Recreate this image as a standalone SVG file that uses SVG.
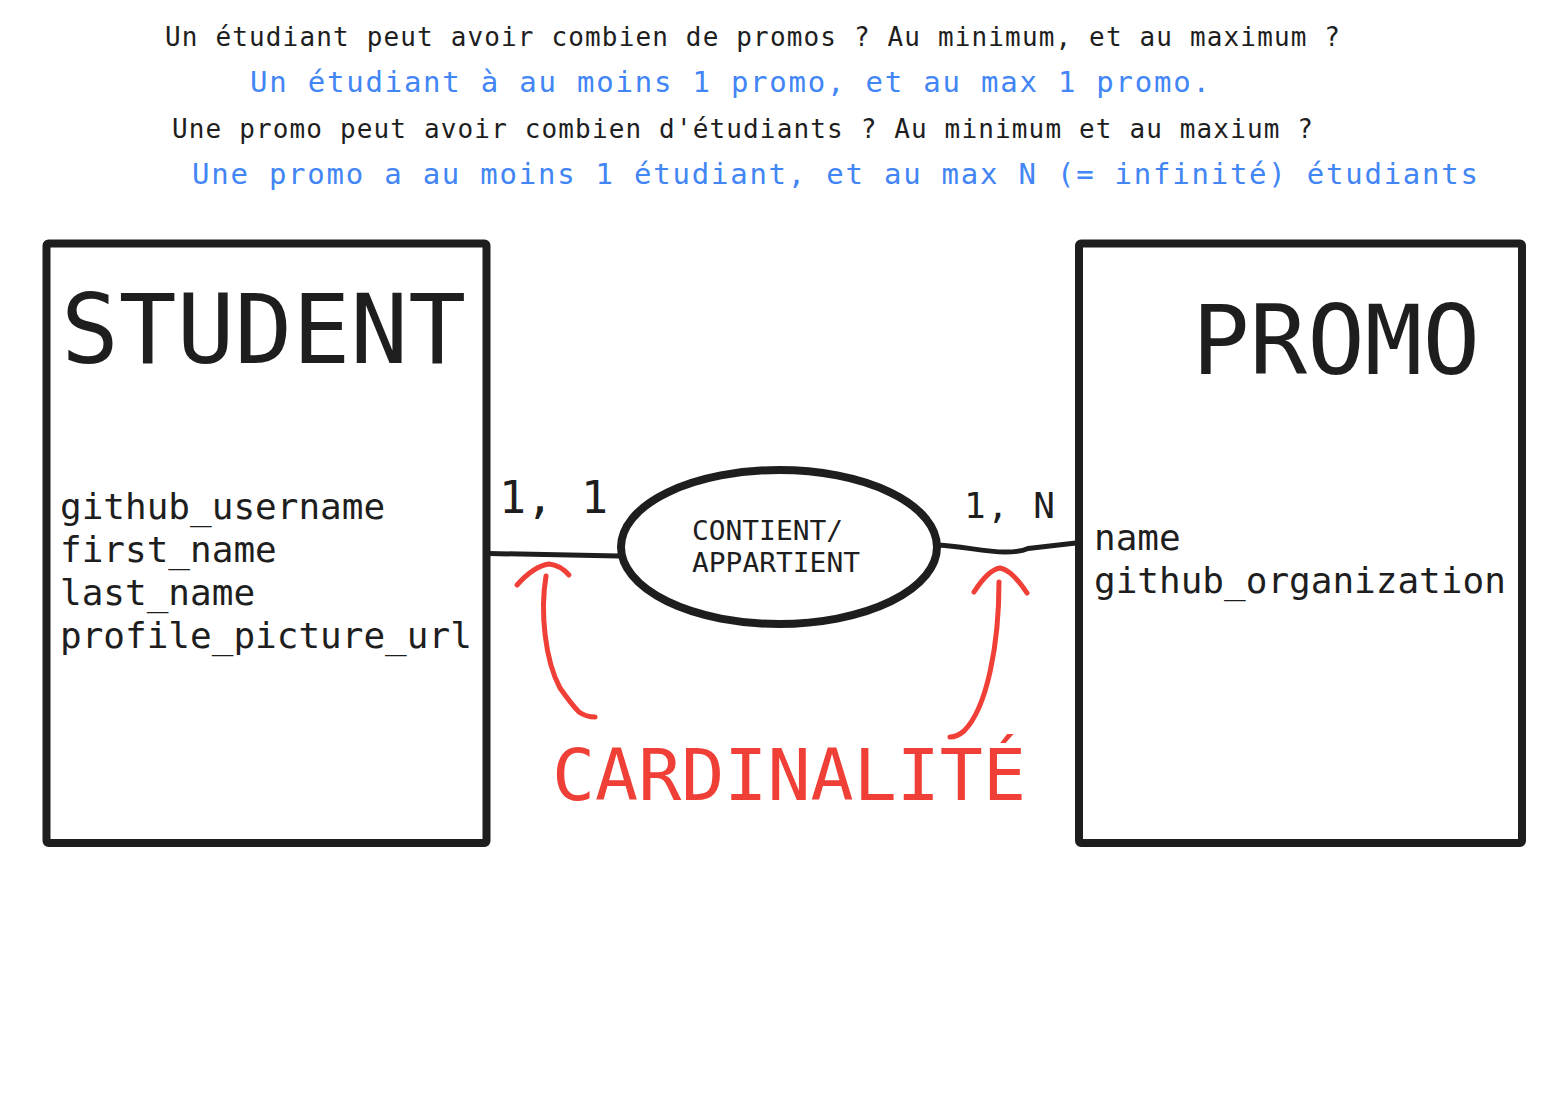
<svg xmlns="http://www.w3.org/2000/svg" width="1549" height="1093" viewBox="0 0 1549 1093">
<style>
.mono{font-family:"DejaVu Sans Mono","Liberation Mono",monospace;}
.q{font-size:26px;fill:#1e1e1e;}
.a{font-size:29px;fill:#4285f4;}
.box{fill:none;stroke:#1e1e1e;stroke-width:8;stroke-linejoin:round;}
.title{font-size:97px;fill:#1e1e1e;}
.attr{font-size:36px;fill:#1e1e1e;}
.card{fill:#1e1e1e;}
.conn{fill:none;stroke:#1e1e1e;stroke-width:5;stroke-linecap:round;stroke-linejoin:round;}
.red{fill:none;stroke:#ef3f36;stroke-width:5;stroke-linecap:round;stroke-linejoin:round;}
</style>
<rect width="1549" height="1093" fill="#ffffff"/>
<g id="questions" class="mono">
<text class="q" x="165" y="46" textLength="1175" lengthAdjust="spacing">Un étudiant peut avoir combien de promos ? Au minimum, et au maximum ?</text>
<text class="a" x="250" y="92" textLength="960" lengthAdjust="spacing">Un étudiant à au moins 1 promo, et au max 1 promo.</text>
<text class="q" x="172" y="138" textLength="1141" lengthAdjust="spacing">Une promo peut avoir combien d'étudiants ? Au minimum et au maxium ?</text>
<text class="a" x="192" y="184" textLength="1286" lengthAdjust="spacing">Une promo a au moins 1 étudiant, et au max N (= infinité) étudiants</text>
</g>
<g id="connectors">
<path class="conn" d="M 489 553.5 L 619 556"/>
<path class="conn" d="M 938 545 C 962 546, 984 552, 1005 552 Q 1020 552 1028 548.5 L 1076 543"/>
</g>
<g id="student">
<rect class="box" x="46.5" y="243.5" width="440" height="599.5" rx="2"/>
<text class="mono title" x="61" y="363" textLength="405" lengthAdjust="spacingAndGlyphs">STUDENT</text>
<text class="mono attr" x="60" y="519">github_username</text>
<text class="mono attr" x="60" y="562">first_name</text>
<text class="mono attr" x="60" y="605">last_name</text>
<text class="mono attr" x="60" y="648">profile_picture_url</text>
</g>
<g id="promo">
<rect class="box" x="1079" y="243.5" width="443" height="599.5" rx="2"/>
<text class="mono title" x="1192" y="374" textLength="288" lengthAdjust="spacingAndGlyphs">PROMO</text>
<text class="mono attr" x="1094" y="550">name</text>
<text class="mono attr" x="1094" y="593">github_organization</text>
</g>
<g id="relation">
<ellipse cx="779" cy="547" rx="158" ry="77" fill="#ffffff" stroke="#1e1e1e" stroke-width="8"/>
<text class="mono" x="692" y="540" font-size="27" fill="#1e1e1e" textLength="151" lengthAdjust="spacingAndGlyphs">CONTIENT/</text>
<text class="mono" x="692" y="572" font-size="27" fill="#1e1e1e" textLength="168" lengthAdjust="spacingAndGlyphs">APPARTIENT</text>
</g>
<g id="cardinality-left">
<text class="mono card" x="499" y="513" font-size="45" textLength="109" lengthAdjust="spacing">1, 1</text>
</g>
<g id="cardinality-right">
<text class="mono card" x="964" y="518" font-size="36" textLength="91" lengthAdjust="spacing">1, N</text>
</g>
<g id="annotation">
<path class="red" d="M 517 585 Q 534 566 549 564 Q 560 565 569 575"/>
<path class="red" d="M 546 576 C 540 612, 545 660, 560 688 Q 572 705 579 712 Q 586 717 595 717"/>
<path class="red" d="M 974 592 Q 988 570 1000 568 Q 1012 570 1027 593"/>
<path class="red" d="M 999 582 C 999 645, 987 708, 964 731 Q 957 737 950 737"/>
<text class="mono" x="552" y="800" font-size="72" fill="#ef3f36" textLength="474" lengthAdjust="spacingAndGlyphs">CARDINALITÉ</text>
</g>
</svg>
